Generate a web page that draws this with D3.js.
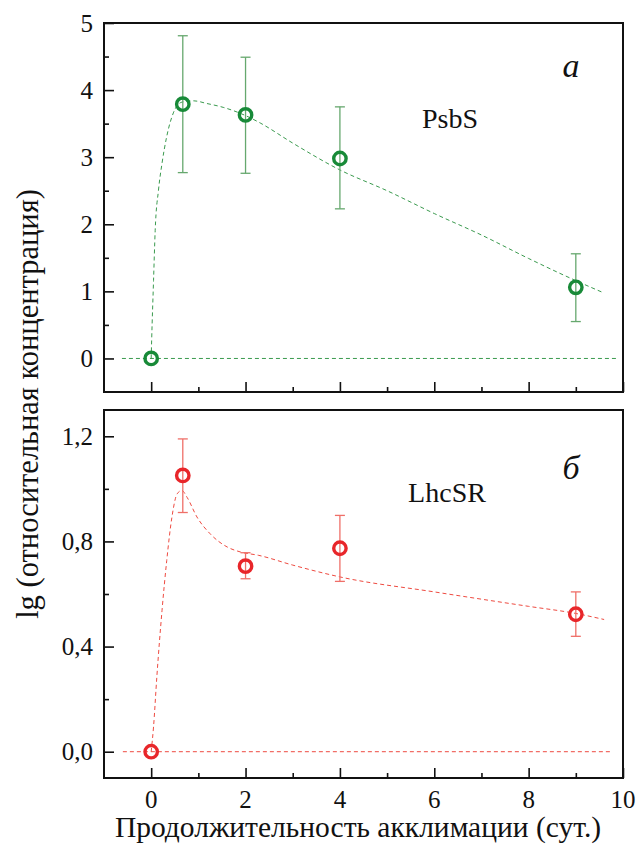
<!DOCTYPE html>
<html>
<head>
<meta charset="UTF-8">
<script src="https://d3js.org/d3.v7.min.js"></script>
<style>
  body { margin: 0; background: #fff; }
  text { font-family: "Liberation Serif", "DejaVu Serif", serif; fill: #111; }
</style>
</head>
<body>
<div id="chart"></div>
<script>
// days of acclimation
var days = [0, 0.67, 2, 4, 9];

// panel a: PsbS
var psbsVal = [0, 3.79, 3.63, 2.98, 1.06];
var psbsHi  = [0, 4.81, 4.49, 3.75, 1.56];
var psbsLo  = [0, 2.77, 2.76, 2.23, 0.55];
var psbsFit = [[0,0],[0.01,0.27],[0.05,1.16],[0.085,1.91],[0.155,2.51],[0.23,2.91],[0.33,3.31],[0.47,3.66],[0.65,3.82],[0.9,3.84],[1.18,3.8],[1.54,3.74],[2,3.62],[2.31,3.51],[3,3.21],[4,2.81],[5,2.5],[6,2.16],[7,1.84],[8,1.49],[9,1.16],[9.55,0.99]];

// panel б: LhcSR
var lhcVal = [0, 1.051, 0.706, 0.774, 0.523];
var lhcHi  = [0, 1.19, 0.757, 0.899, 0.608];
var lhcLo  = [0, 0.91, 0.658, 0.648, 0.439];
var lhcFit = [[0,0],[0.05,0.095],[0.12,0.285],[0.23,0.538],[0.33,0.728],[0.44,0.893],[0.55,0.981],[0.65,0.994],[0.76,0.968],[0.97,0.893],[1.25,0.829],[1.61,0.779],[1.89,0.76],[2.28,0.747],[3,0.71],[4,0.665],[6,0.608],[8,0.553],[9,0.526],[9.6,0.503]];

var xTicks = [0, 2, 4, 6, 8, 10];
var xMinor = [1, 3, 5, 7, 9];
var yTicksA = [0, 1, 2, 3, 4, 5];
var yMinorA = [0.5, 1.5, 2.5, 3.5, 4.5];
var yTicksB = [0, 0.4, 0.8, 1.2];
var yMinorB = [0.2, 0.6, 1.0];

var W = 638, H = 847;
var left = 104, right = 623;

var svg = d3.select('#chart').append('svg')
  .attr('width', W).attr('height', H);

var x = d3.scaleLinear().domain([-1, 10]).range([left, right]);

function panel(o) {
  var y = d3.scaleLinear().domain(o.ydom).range([o.bottom, o.top]);
  var g = svg.append('g');

  // zero line
  g.append('line')
    .attr('x1', x(o.zero[0])).attr('x2', x(o.zero[1]))
    .attr('y1', y(0)).attr('y2', y(0))
    .attr('stroke', o.lineColor).attr('stroke-width', 1)
    .attr('stroke-dasharray', '4,3');

  // fit curve
  var line = d3.line()
    .x(function(d){ return x(d[0]); })
    .y(function(d){ return y(d[1]); })
    .curve(d3.curveMonotoneX);
  g.append('path')
    .attr('d', line(o.fit))
    .attr('fill', 'none')
    .attr('stroke', o.lineColor).attr('stroke-width', 1)
    .attr('stroke-dasharray', '4,3');

  // error bars
  days.forEach(function(d, i){
    if (o.hi[i] === o.lo[i]) return;
    var px = x(d);
    g.append('line').attr('x1', px).attr('x2', px)
      .attr('y1', y(o.hi[i])).attr('y2', y(o.lo[i]))
      .attr('stroke', o.errColor).attr('stroke-width', 1.3);
    [o.hi[i], o.lo[i]].forEach(function(v){
      g.append('line').attr('x1', px - 5).attr('x2', px + 5)
        .attr('y1', y(v)).attr('y2', y(v))
        .attr('stroke', o.errColor).attr('stroke-width', 1.3);
    });
  });

  // markers
  g.selectAll('circle.pt').data(days).enter().append('circle')
    .attr('cx', function(d){ return x(d); })
    .attr('cy', function(d, i){ return y(o.vals[i]); })
    .attr('r', 6.2)
    .attr('fill', 'none')
    .attr('stroke', o.color).attr('stroke-width', 3.4);

  // ticks (inward)
  var gx = g.append('g').attr('transform', 'translate(0,' + o.bottom + ')')
    .call(d3.axisTop(x).tickValues(xTicks).tickSize(10).tickFormat(''));
  var gxm = g.append('g').attr('transform', 'translate(0,' + o.bottom + ')')
    .call(d3.axisTop(x).tickValues(xMinor).tickSize(5).tickFormat(''));
  var gy = g.append('g').attr('transform', 'translate(' + left + ',0)')
    .call(d3.axisRight(y).tickValues(o.yTicks).tickSize(10).tickFormat(''));
  var gym = g.append('g').attr('transform', 'translate(' + left + ',0)')
    .call(d3.axisRight(y).tickValues(o.yMinor).tickSize(5).tickFormat(''));
  [gx, gxm, gy, gym].forEach(function(a){
    a.select('.domain').remove();
    a.selectAll('line').attr('stroke', '#111').attr('stroke-width', 1.6);
  });

  // y tick labels
  g.selectAll('text.yl').data(o.yTicks).enter().append('text')
    .attr('x', left - 11).attr('y', function(d){ return y(d); })
    .attr('dy', '0.35em')
    .attr('text-anchor', 'end')
    .style('font-size', '25px')
    .text(o.fmt);

  // frame
  g.append('rect')
    .attr('x', left).attr('y', o.top)
    .attr('width', right - left).attr('height', o.bottom - o.top)
    .attr('fill', 'none').attr('stroke', '#111').attr('stroke-width', 2);

  g.append('text').attr('x', o.nameX).attr('y', o.nameY)
    .attr('text-anchor', 'middle').style('font-size', '28px').text(o.name);
  g.append('text').attr('x', 571).attr('y', o.letterY)
    .attr('text-anchor', 'middle').style('font-size', '34px')
    .style('font-style', 'italic').text(o.letter);

  return y;
}

panel({
  top: 23, bottom: 392, ydom: [-0.5, 5],
  vals: psbsVal, hi: psbsHi, lo: psbsLo, fit: psbsFit,
  zero: [-0.62, 9.85],
  color: '#188a38', errColor: '#66a86e', lineColor: '#3a9a4e',
  yTicks: yTicksA, yMinor: yMinorA,
  fmt: d3.format('d'),
  name: 'PsbS', nameX: 450, nameY: 128, letter: 'a', letterY: 77
});

panel({
  top: 410, bottom: 778, ydom: [-0.1, 1.3],
  vals: lhcVal, hi: lhcHi, lo: lhcLo, fit: lhcFit,
  zero: [-0.6, 9.75],
  color: '#e8262a', errColor: '#ef6f68', lineColor: '#ee4a40',
  yTicks: yTicksB, yMinor: yMinorB,
  fmt: function(d){ return d3.format('.1f')(d).replace('.', ','); },
  name: 'LhcSR', nameX: 447, nameY: 502, letter: 'б', letterY: 479
});

// x tick labels
svg.selectAll('text.xl').data(xTicks).enter().append('text')
  .attr('x', function(d){ return x(d); }).attr('y', 808)
  .attr('text-anchor', 'middle').style('font-size', '25px')
  .text(function(d){ return d; });

svg.append('text')
  .attr('x', 358).attr('y', 837)
  .attr('text-anchor', 'middle').style('font-size', '29.5px')
  .text('Продолжительность акклимации (сут.)');

svg.append('text')
  .attr('transform', 'translate(38,404) rotate(-90)')
  .attr('text-anchor', 'middle').style('font-size', '30.5px')
  .text('lg (относительная концентрация)');
</script>
</body>
</html>
